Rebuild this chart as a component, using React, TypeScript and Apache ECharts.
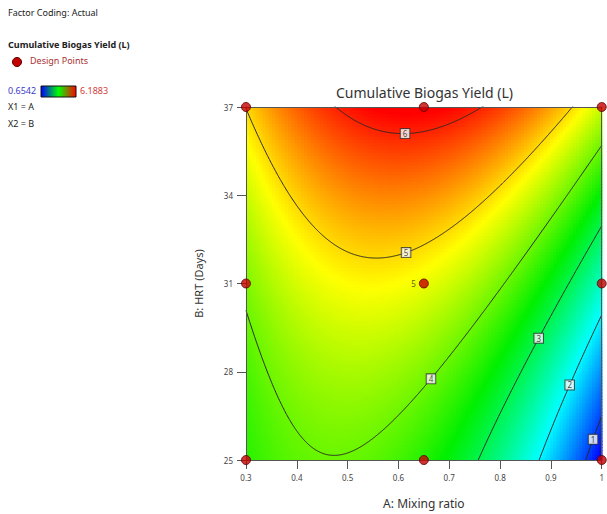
import React, { useEffect, useRef } from "react";
import * as echarts from "echarts";

// ---------- data ----------
// Factor ranges (actual units)
const factorARange = [0.3, 1.0]; // A: Mixing ratio
const factorBRange = [25, 37]; // B: HRT (Days)
const mixingRatioTicks = [0.3, 0.4, 0.5, 0.6, 0.7, 0.8, 0.9, 1];
const hrtTicks = [25, 28, 31, 34, 37];

// Quadratic model in coded factors (estimated from the contour picture)
const modelTerms = ["Intercept", "A", "B", "AB", "A²", "B²"];
const modelCoefficients = [4.7, -0.88, 1.32, 0.63, -1.48, 0.22];

// Design points (face-centred design), centre point has 5 replicates
const designA = [0.3, 0.65, 1, 0.3, 0.65, 1, 0.3, 0.65, 1];
const designB = [25, 25, 25, 31, 31, 31, 37, 37, 37];
const designReplicates = [1, 1, 1, 1, 5, 1, 1, 1, 1];

// Contour levels and where their labels sit (A value)
const contourLevels = [1, 2, 3, 4, 5, 6];
const contourLabelA = [0.983, 0.937, 0.876, 0.664, 0.615, 0.613];

// Response range (legend)
const responseMin = 0.6542;
const responseMax = 6.1883;
const rampColors = ["#0000ff", "#00ffff", "#00f000", "#ffff00", "#ff0000"];

// ---------- helpers ----------
const FONT = "'Noto Sans', 'DejaVu Sans', sans-serif";
const aMid = (factorARange[0] + factorARange[1]) / 2;
const aHalf = (factorARange[1] - factorARange[0]) / 2;
const bMid = (factorBRange[0] + factorBRange[1]) / 2;
const bHalf = (factorBRange[1] - factorBRange[0]) / 2;
const code = (v: number, mid: number, half: number) => (v - mid) / half;

const predict = (A: number, B: number) => {
  const x = code(A, aMid, aHalf);
  const y = code(B, bMid, bHalf);
  const [c0, c1, c2, c12, c11, c22] = modelCoefficients;
  return c0 + c1 * x + c2 * y + c12 * x * y + c11 * x * x + c22 * y * y;
};

// B on the contour of a given level, for a given A (quadratic in coded B)
const contourB = (A: number, level: number): number | null => {
  const x = code(A, aMid, aHalf);
  const [c0, c1, c2, c12, c11, c22] = modelCoefficients;
  const qa = c22;
  const qb = c2 + c12 * x;
  const qc = c0 + c1 * x + c11 * x * x - level;
  const disc = qb * qb - 4 * qa * qc;
  if (disc < 0) return null;
  const y = (-2 * qc) / (qb + Math.sqrt(disc));
  if (y < -1.4 || y > 1.4) return null;
  return bMid + y * bHalf;
};

const NA = 110;
const NB = 110;
const dA = (factorARange[1] - factorARange[0]) / NA;
const dB = (factorBRange[1] - factorBRange[0]) / NB;

export default function App() {
  const ref = useRef<HTMLDivElement>(null);

  useEffect(() => {
    if (!ref.current) return;
    const chart = echarts.init(ref.current, null, { renderer: "svg" });

    const cells: number[][] = [];
    for (let i = 0; i < NA; i++) {
      for (let j = 0; j < NB; j++) {
        const A = factorARange[0] + (i + 0.5) * dA;
        const B = factorBRange[0] + (j + 0.5) * dB;
        cells.push([A, B, predict(A, B)]);
      }
    }

    const contourSeries = contourLevels.map((level) => {
      const pts: number[][] = [];
      const steps = 500;
      for (let k = 0; k <= steps; k++) {
        const A = factorARange[0] + (k / steps) * (factorARange[1] - factorARange[0]);
        const B = contourB(A, level);
        if (B !== null) pts.push([A, B]);
      }
      return {
        type: "line",
        data: pts,
        showSymbol: false,
        symbol: "none",
        silent: true,
        clip: true,
        z: 3,
        lineStyle: { color: "#2a2a2a", width: 1 },
      };
    });

    const labelData = contourLevels
      .map((level, i) => {
        const B = contourB(contourLabelA[i], level);
        return B === null ? null : { value: [contourLabelA[i], B], level };
      })
      .filter(Boolean) as { value: number[]; level: number }[];

    const option: any = {
      animation: false,
      title: {
        text: "Cumulative Biogas Yield (L)",
        left: 424.5,
        top: 85,
        textAlign: "center",
        padding: 0,
        textStyle: { fontSize: 14, fontWeight: "normal", color: "#333", fontFamily: FONT },
      },
      grid: { left: 246, top: 107, width: 357, height: 358 },
      xAxis: [
        {
          type: "value",
          min: factorARange[0],
          max: factorARange[1],
          interval: 0.1,
          position: "bottom",
          z: 5,
          name: "A: Mixing ratio",
          nameLocation: "middle",
          nameGap: 37,
          nameTextStyle: { fontSize: 12, color: "#333", fontFamily: FONT },
          axisLine: { show: true, lineStyle: { color: "#555", width: 1 } },
          axisTick: { show: true, length: 9, lineStyle: { color: "#555" } },
          axisLabel: {
            fontSize: 8,
            color: "#444",
            margin: 13,
            fontFamily: FONT,
            formatter: (v: number) => {
              const t = mixingRatioTicks.find((m) => Math.abs(m - v) < 1e-6);
              return t === undefined ? "" : String(t);
            },
          },
          splitLine: { show: false },
        },
        {
          type: "value",
          min: factorARange[0],
          max: factorARange[1],
          position: "top",
          z: 5,
          axisLine: { show: true, onZero: false, lineStyle: { color: "#555", width: 1 } },
          axisTick: { show: false },
          axisLabel: { show: false },
          splitLine: { show: false },
        },
      ],
      yAxis: [
        {
          type: "value",
          min: factorBRange[0],
          max: factorBRange[1],
          interval: 3,
          position: "left",
          z: 5,
          name: "B: HRT (Days)",
          nameLocation: "middle",
          nameGap: 42,
          nameRotate: 90,
          nameTextStyle: { fontSize: 11, color: "#333", fontFamily: FONT },
          axisLine: { show: true, onZero: false, lineStyle: { color: "#555", width: 1 } },
          axisTick: { show: true, length: 9, lineStyle: { color: "#555" } },
          axisLabel: {
            fontSize: 8,
            color: "#444",
            margin: 13,
            fontFamily: FONT,
            formatter: (v: number) => {
              const t = hrtTicks.find((m) => Math.abs(m - v) < 1e-6);
              return t === undefined ? "" : String(t);
            },
          },
          splitLine: { show: false },
        },
        {
          type: "value",
          min: factorBRange[0],
          max: factorBRange[1],
          position: "right",
          z: 5,
          axisLine: { show: true, onZero: false, lineStyle: { color: "#555", width: 1 } },
          axisTick: { show: false },
          axisLabel: { show: false },
          splitLine: { show: false },
        },
      ],
      visualMap: {
        show: false,
        type: "continuous",
        seriesIndex: 0,
        dimension: 2,
        min: responseMin,
        max: responseMax,
        inRange: { color: rampColors },
      },
      series: [
        {
          type: "custom",
          silent: true,
          encode: { x: 0, y: 1 },
          data: cells,
          z: 1,
          renderItem: (params: any, api: any) => {
            const a = api.value(0);
            const b = api.value(1);
            const p0 = api.coord([a - dA / 2, b + dB / 2]);
            const p1 = api.coord([a + dA / 2, b - dB / 2]);
            return {
              type: "rect",
              shape: {
                x: p0[0],
                y: p0[1],
                width: p1[0] - p0[0] + 0.8,
                height: p1[1] - p0[1] + 0.8,
              },
              style: { fill: api.visual("color") },
            };
          },
        },
        ...contourSeries,
        {
          type: "scatter",
          silent: true,
          z: 6,
          symbolSize: 1,
          itemStyle: { color: "rgba(0,0,0,0)" },
          data: labelData.map((d) => ({ value: d.value, level: d.level })),
          label: {
            show: true,
            position: "inside",
            formatter: (p: any) => String(p.data.level),
            fontSize: 8,
            fontFamily: FONT,
            color: "#222",
            backgroundColor: "#fff",
            borderColor: "#333",
            borderWidth: 1,
            padding: [1, 2, 0, 2],
          },
        },
        {
          type: "scatter",
          silent: true,
          clip: false,
          z: 10,
          symbol: "circle",
          symbolSize: 9,
          itemStyle: { color: "#c40000", borderColor: "#5a0000", borderWidth: 1 },
          data: designA.map((a, i) => ({
            value: [a, designB[i]],
            label:
              designReplicates[i] > 1
                ? {
                    show: true,
                    position: "left",
                    distance: 3,
                    formatter: String(designReplicates[i]),
                    fontSize: 8,
                    color: "#333",
                    fontFamily: FONT,
                  }
                : { show: false },
          })),
        },
      ],
      graphic: [
        {
          type: "text",
          left: 8,
          top: 8,
          style: { text: "Factor Coding: Actual", font: `9px ${FONT}`, fill: "#222" },
        },
        {
          type: "text",
          left: 8,
          top: 40,
          style: { text: "Cumulative Biogas Yield (L)", font: `bold 9px ${FONT}`, fill: "#222" },
        },
        {
          type: "circle",
          shape: { cx: 17, cy: 62, r: 4.5 },
          style: { fill: "#c40000", stroke: "#5a0000", lineWidth: 1 },
        },
        {
          type: "text",
          left: 30,
          top: 56,
          style: { text: "Design Points", font: `9px ${FONT}`, fill: "#a83232" },
        },
        {
          type: "text",
          left: 8,
          top: 86,
          style: { text: responseMin.toFixed(4), font: `9px ${FONT}`, fill: "#3a3acc" },
        },
        {
          type: "rect",
          shape: { x: 41, y: 86, width: 35, height: 11 },
          style: {
            stroke: "#111",
            lineWidth: 1,
            fill: new echarts.graphic.LinearGradient(0, 0, 1, 0, [
              { offset: 0, color: "#0000ff" },
              { offset: 0.5, color: "#00ff00" },
              { offset: 1, color: "#ff0000" },
            ]),
          },
        },
        {
          type: "text",
          left: 80,
          top: 86,
          style: { text: responseMax.toFixed(4), font: `9px ${FONT}`, fill: "#d23a3a" },
        },
        {
          type: "text",
          left: 8,
          top: 102,
          style: { text: "X1 = A", font: `9px ${FONT}`, fill: "#222" },
        },
        {
          type: "text",
          left: 8,
          top: 119,
          style: { text: "X2 = B", font: `9px ${FONT}`, fill: "#222" },
        },
      ],
    };

    chart.setOption(option);
    return () => chart.dispose();
  }, []);

  return (
    <div
      ref={ref}
      style={{ position: "fixed", left: 0, top: 0, width: 607, height: 514, background: "#fff" }}
    />
  );
}
